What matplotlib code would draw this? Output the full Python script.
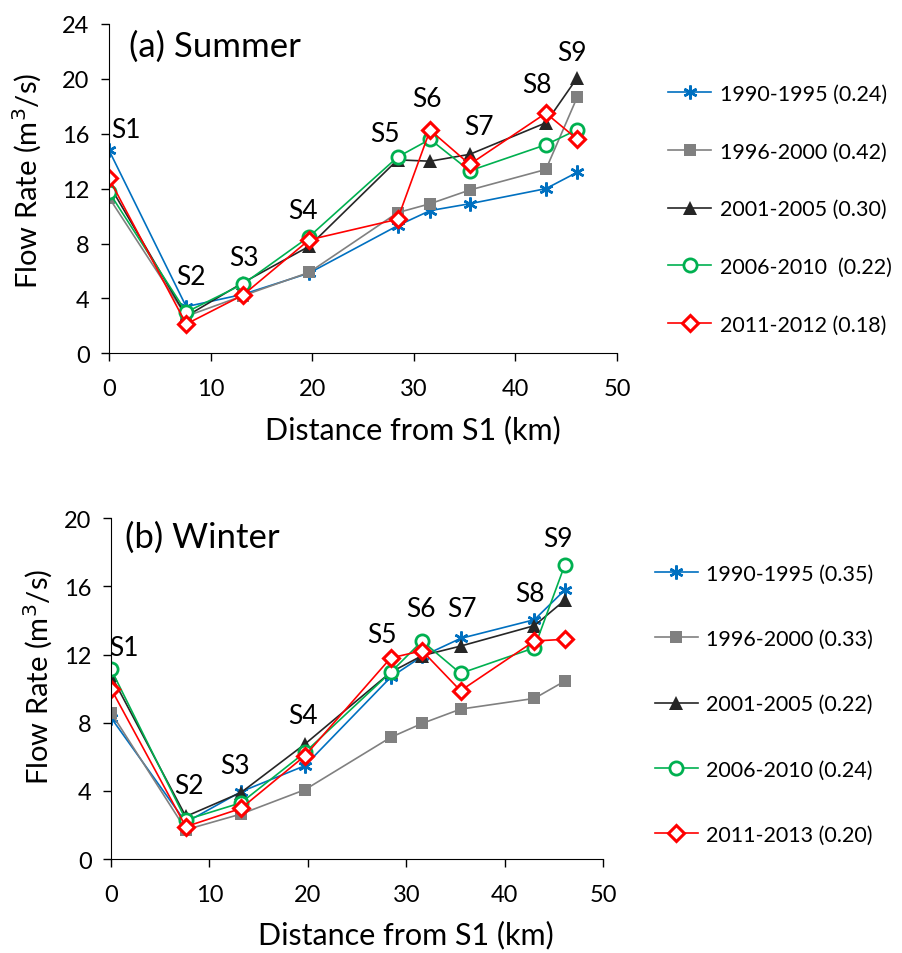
import matplotlib
matplotlib.use('Agg')
import matplotlib.pyplot as plt

plt.rcParams['font.family'] = ['Lato', 'DejaVu Sans']

# distances of the stations from S1 (km)
dist = [0, 7.6, 13.2, 19.7, 28.4, 31.6, 35.5, 43.0, 46.1]
stations = ['S1', 'S2', 'S3', 'S4', 'S5', 'S6', 'S7', 'S8', 'S9']

# summer flow rates (m3/s)
summer_9095 = [14.8, 3.4, 4.3, 5.85, 9.3, 10.4, 10.9, 12.0, 13.2]
summer_9600 = [11.35, 2.7, 4.2, 5.9, 10.25, 10.9, 11.9, 13.4, 18.7]
summer_0105 = [12.3, 2.7, 5.15, 7.8, 14.1, 14.0, 14.5, 16.8, 20.1]
summer_0610 = [11.75, 3.0, 5.05, 8.5, 14.3, 15.6, 13.3, 15.2, 16.3]
summer_1112 = [12.75, 2.13, 4.25, 8.27, 9.77, 16.27, 13.77, 17.5, 15.6]
summer_labels = ['1990-1995 (0.24)', '1996-2000 (0.42)', '2001-2005 (0.30)',
                 '2006-2010  (0.22)', '2011-2012 (0.18)']

# winter flow rates (m3/s)
winter_9095 = [8.3, 2.15, 3.95, 5.48, 10.67, 11.9, 12.95, 14.05, 15.8]
winter_9600 = [8.6, 1.72, 2.64, 4.07, 7.14, 7.96, 8.8, 9.43, 10.45]
winter_0105 = [10.8, 2.5, 3.9, 6.75, 10.96, 11.94, 12.5, 13.7, 15.2]
winter_0610 = [11.15, 2.3, 3.3, 6.26, 10.96, 12.8, 10.9, 12.4, 17.28]
winter_1113 = [10.0, 1.9, 2.97, 6.06, 11.8, 12.23, 9.88, 12.8, 12.9]
winter_labels = ['1990-1995 (0.35)', '1996-2000 (0.33)', '2001-2005 (0.22)',
                 '2006-2010 (0.24)', '2011-2013 (0.20)']

# where the station names sit (data coords)
summer_lab_x = [1.65, 8.1, 13.3, 19.1, 27.2, 31.3, 36.4, 42.1, 45.6]
summer_lab_y = [16.3, 5.6, 7.0, 10.4, 16.0, 18.6, 16.5, 19.6, 21.9]
winter_lab_x = [1.3, 7.9, 12.6, 19.5, 27.5, 31.5, 35.6, 42.5, 45.4]
winter_lab_y = [12.4, 4.3, 5.5, 8.4, 13.2, 14.7, 14.7, 15.6, 18.8]

styles = [
    dict(color='#0070C0', marker=(6, 2, 0), markersize=10, markeredgewidth=1.8),
    dict(color='#808080', marker='s', markersize=9, markeredgewidth=0),
    dict(color='#262626', marker='^', markersize=10, markeredgewidth=0),
    dict(color='#00B050', marker='o', markersize=9.5, markerfacecolor='white',
         markeredgewidth=2),
    dict(color='#FF0000', marker='D', markersize=8.5, markerfacecolor='white',
         markeredgewidth=2.2),
]


def panel(ax, series, labels, lab_x, lab_y, title, title_xy, ymax,
          legend_anchor, spacing, xlab_xy, ylab_xy):
    for vals, lab, st in zip(series, labels, styles):
        ax.plot(dist, vals, linewidth=1.2, label=lab, **st)
    for s, x, y in zip(stations, lab_x, lab_y):
        ax.text(x, y, s, fontsize=19, ha='center', va='center')
    ax.text(title_xy[0], title_xy[1], title, fontsize=25, ha='left', va='center')
    ax.set_xlim(0, 50)
    ax.set_ylim(0, ymax)
    ax.set_xticks(range(0, 51, 10))
    ax.set_yticks(range(0, ymax + 1, 4))
    ax.spines['top'].set_visible(False)
    ax.spines['right'].set_visible(False)
    ax.tick_params(direction='out', length=6, width=1, labelsize=17)
    ax.tick_params(axis='y', pad=8)
    ax.tick_params(axis='x', pad=12)
    ax.set_xlabel('Distance from S1 (km)', fontsize=22, va='center')
    ax.set_ylabel('Flow Rate (m$^3$/s)', fontsize=21, va='center')
    ax.xaxis.set_label_coords(*xlab_xy)
    ax.yaxis.set_label_coords(*ylab_xy)
    ax.legend(loc='upper left', bbox_to_anchor=legend_anchor,
              bbox_transform=ax.figure.transFigure, frameon=False,
              fontsize=15.5, labelspacing=spacing, handlelength=2.0,
              handletextpad=0.4, borderaxespad=0, borderpad=0)


fig = plt.figure(figsize=(9.03, 9.54), dpi=100)
ax1 = fig.add_axes([0.1207, 0.6286, 0.5626, 0.3452])
ax2 = fig.add_axes([0.1229, 0.0985, 0.5452, 0.3571])

panel(ax1, [summer_9095, summer_9600, summer_0105, summer_0610, summer_1112],
      summer_labels, summer_lab_x, summer_lab_y, '(a) Summer', (2.0, 22.4), 24,
      (0.740, 0.911), 1.75, (0.598, -0.23), (-0.16, 0.526))
panel(ax2, [winter_9095, winter_9600, winter_0105, winter_0610, winter_1113],
      winter_labels, winter_lab_x, winter_lab_y, '(b) Winter', (1.4, 18.9), 20,
      (0.725, 0.408), 2.1, (0.60, -0.22), (-0.148, 0.537))

fig.savefig('out.png', dpi=100)
